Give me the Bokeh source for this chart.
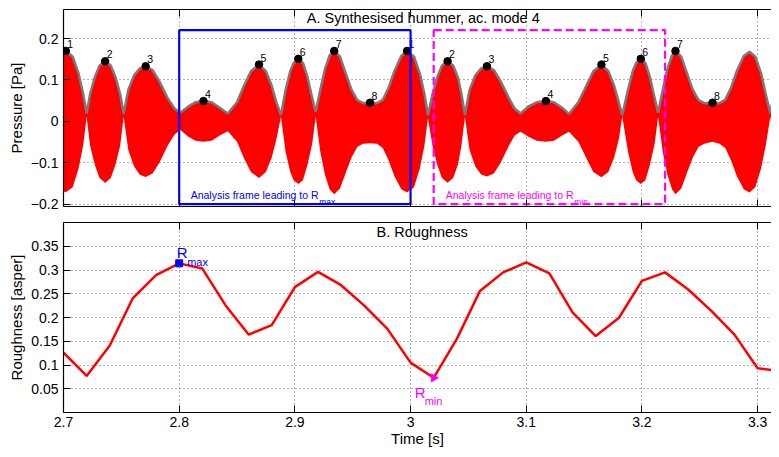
from bokeh.plotting import figure
from bokeh.layouts import column
from bokeh.models import FixedTicker, Label, LinearAxis, Range1d
from bokeh.embed import file_html
from bokeh.resources import INLINE
from bokeh.core.properties import value

FONT = "Liberation Sans"

# ---------------- data ----------------
# envelope of the synthesised hummer signal (time [s], upper / lower envelope [Pa])
env_t = [2.700, 2.702, 2.708, 2.713, 2.717, 2.720, 2.723, 2.727, 2.731, 2.736,
         2.741, 2.745, 2.749, 2.752, 2.756, 2.761, 2.766, 2.771, 2.777, 2.783,
         2.790, 2.796, 2.801, 2.808, 2.814, 2.821, 2.828, 2.835, 2.842, 2.850,
         2.856, 2.862, 2.869, 2.875, 2.880, 2.884, 2.888, 2.892, 2.896, 2.899,
         2.903, 2.907, 2.911, 2.915, 2.918, 2.922, 2.926, 2.930, 2.934, 2.939,
         2.944, 2.949, 2.954, 2.959, 2.965, 2.971, 2.976, 2.981, 2.986, 2.992,
         2.997, 3.003, 3.008, 3.012, 3.015, 3.019, 3.023, 3.027, 3.032, 3.037,
         3.041, 3.044, 3.047, 3.051, 3.056, 3.061, 3.066, 3.072, 3.078, 3.085,
         3.090, 3.095, 3.102, 3.109, 3.117, 3.124, 3.131, 3.137, 3.145, 3.152,
         3.158, 3.165, 3.171, 3.176, 3.180, 3.183, 3.188, 3.192, 3.195, 3.199,
         3.203, 3.207, 3.211, 3.214, 3.218, 3.222, 3.226, 3.229, 3.234, 3.239,
         3.244, 3.249, 3.254, 3.261, 3.267, 3.272, 3.277, 3.282, 3.288, 3.293,
         3.298, 3.303, 3.307, 3.311, 3.314, 3.318, 3.322]
env_upper = [0.166, 0.170, 0.156, 0.116, 0.066, 0.019, 0.066, 0.106, 0.134, 0.145,
             0.134, 0.106, 0.066, 0.018, 0.076, 0.111, 0.128, 0.133, 0.124, 0.096,
             0.056, 0.031, 0.021, 0.036, 0.046, 0.049, 0.046, 0.033, 0.019, 0.046,
             0.086, 0.121, 0.137, 0.121, 0.086, 0.046, 0.015, 0.076, 0.121, 0.141,
             0.151, 0.141, 0.106, 0.056, 0.023, 0.076, 0.126, 0.159, 0.170, 0.156,
             0.116, 0.076, 0.051, 0.044, 0.045, 0.044, 0.052, 0.081, 0.121, 0.158,
             0.170, 0.156, 0.116, 0.066, 0.015, 0.066, 0.106, 0.134, 0.145, 0.134,
             0.106, 0.066, 0.015, 0.076, 0.111, 0.128, 0.133, 0.124, 0.096, 0.056,
             0.031, 0.019, 0.036, 0.046, 0.049, 0.046, 0.033, 0.018, 0.046, 0.086,
             0.121, 0.137, 0.121, 0.086, 0.046, 0.015, 0.076, 0.121, 0.141, 0.151,
             0.141, 0.106, 0.056, 0.021, 0.076, 0.126, 0.159, 0.170, 0.156, 0.116,
             0.076, 0.051, 0.044, 0.045, 0.044, 0.052, 0.081, 0.121, 0.158, 0.168,
             0.156, 0.116, 0.066, 0.019, 0.066, 0.108, 0.136]
env_lower = [-0.169, -0.171, -0.159, -0.114, -0.059, 0.011, -0.059, -0.104, -0.136, -0.149,
             -0.136, -0.104, -0.059, 0.011, -0.069, -0.109, -0.129, -0.134, -0.126, -0.099,
             -0.059, -0.032, -0.021, -0.037, -0.047, -0.049, -0.047, -0.034, -0.024, -0.049,
             -0.089, -0.122, -0.137, -0.122, -0.087, -0.044, 0.011, -0.074, -0.122, -0.142,
             -0.151, -0.142, -0.104, -0.054, 0.011, -0.074, -0.129, -0.164, -0.176, -0.162,
             -0.124, -0.087, -0.061, -0.054, -0.053, -0.054, -0.064, -0.094, -0.132, -0.164,
             -0.172, -0.159, -0.114, -0.059, 0.008, -0.059, -0.104, -0.136, -0.148, -0.136,
             -0.104, -0.059, 0.011, -0.069, -0.109, -0.128, -0.133, -0.126, -0.099, -0.059,
             -0.034, -0.025, -0.037, -0.047, -0.049, -0.047, -0.034, -0.025, -0.049, -0.089,
             -0.122, -0.135, -0.122, -0.087, -0.044, 0.012, -0.074, -0.122, -0.142, -0.151,
             -0.142, -0.104, -0.054, 0.011, -0.074, -0.129, -0.164, -0.176, -0.162, -0.124,
             -0.087, -0.061, -0.054, -0.049, -0.054, -0.064, -0.094, -0.132, -0.164, -0.172,
             -0.159, -0.114, -0.059, 0.011, -0.055, -0.085, -0.110]

# numbered envelope peaks
peak_t = [2.702, 2.736, 2.771, 2.821, 2.869, 2.903, 2.934, 2.965,
          2.997, 3.032, 3.066, 3.117, 3.165, 3.199, 3.229, 3.261]
peak_v = [0.170, 0.145, 0.133, 0.049, 0.137, 0.151, 0.170, 0.045,
          0.170, 0.145, 0.133, 0.049, 0.137, 0.151, 0.170, 0.045]
peak_lbl = ["1", "2", "3", "4", "5", "6", "7", "8",
            "1", "2", "3", "4", "5", "6", "7", "8"]

# roughness time series
rough_t = [2.70, 2.72, 2.74, 2.76, 2.78, 2.80, 2.82, 2.84, 2.86, 2.88, 2.90,
           2.92, 2.94, 2.96, 2.98, 3.00, 3.02, 3.04, 3.06, 3.08, 3.10, 3.12,
           3.14, 3.16, 3.18, 3.20, 3.22, 3.24, 3.26, 3.28, 3.30, 3.32]
rough_v = [0.126, 0.077, 0.141, 0.241, 0.289, 0.314, 0.303, 0.226, 0.164, 0.184, 0.264,
           0.296, 0.268, 0.225, 0.176, 0.105, 0.073, 0.155, 0.256, 0.295, 0.316, 0.293,
           0.211, 0.161, 0.199, 0.277, 0.295, 0.259, 0.214, 0.164, 0.093, 0.087]
i_rmax = 5
i_rmin = 16

# analysis frames (start, end) in s and their pressure extent
frame_rmax = [2.80, 3.00]
frame_rmin = [3.02, 3.22]
frame_p = [-0.20, 0.22]

# ticks
t_ticks = [2.7, 2.8, 2.9, 3.0, 3.1, 3.2, 3.3]
t_tick_labels = ["2.7", "2.8", "2.9", "3", "3.1", "3.2", "3.3"]
p_ticks = [-0.2, -0.1, 0.0, 0.1, 0.2]
p_tick_labels = ["\u22120.2", "\u22120.1", "0", "0.1", "0.2"]
r_ticks = [0.05, 0.10, 0.15, 0.20, 0.25, 0.30, 0.35]
r_tick_labels = ["0.05", "0.1", "0.15", "0.2", "0.25", "0.3", "0.35"]

X_RANGE = (2.7, 3.312)


def style_axis(ax, ticks, labels, show_labels=True):
    ax.ticker = FixedTicker(ticks=ticks)
    ax.major_label_overrides = {t: l for t, l in zip(ticks, labels)}
    ax.major_tick_in = 7
    ax.major_tick_out = 0
    ax.minor_tick_in = 0
    ax.minor_tick_out = 0
    ax.axis_line_color = "black"
    ax.axis_line_width = 1.2
    ax.major_tick_line_color = "black"
    ax.major_label_text_font = FONT
    ax.major_label_text_color = "black"
    ax.axis_label_text_font = FONT
    ax.axis_label_text_font_style = "normal"
    ax.axis_label_text_color = "black"
    ax.axis_label_text_font_size = "15px"
    if show_labels:
        ax.major_label_text_font_size = "14px"
        ax.major_label_standoff = 5
    else:
        ax.major_label_text_font_size = "0px"
        ax.major_label_standoff = 0
        ax.major_label_text_alpha = 0


def style_grid(p, xt, yt):
    p.xgrid.ticker = FixedTicker(ticks=xt)
    p.ygrid.ticker = FixedTicker(ticks=yt)
    for g in (p.xgrid, p.ygrid):
        g.grid_line_color = "#666666"
        g.grid_line_dash = "1 3"
        g.grid_line_width = 1


# ---------------- top panel ----------------
top = figure(width=771, height=212, output_backend="svg", toolbar_location=None,
             x_range=Range1d(*X_RANGE), y_range=Range1d(-0.2055, 0.27),
             min_border_left=63, min_border_right=0, min_border_top=9, min_border_bottom=6)
top.outline_line_color = None
style_axis(top.xaxis[0], t_ticks, t_tick_labels, show_labels=False)
style_axis(top.yaxis[0], p_ticks, p_tick_labels)
top.yaxis[0].axis_label = "Pressure [Pa]"
top.yaxis[0].axis_label_standoff = 3
ax_top = LinearAxis()
style_axis(ax_top, t_ticks, t_tick_labels, show_labels=False)
top.add_layout(ax_top, "above")
style_grid(top, t_ticks, p_ticks)

top.varea(x=env_t, y1=env_lower, y2=env_upper, fill_color="#ff0000")
top.line(env_t, env_upper, line_color="#7a7a7a", line_width=2.5)
top.scatter(peak_t, peak_v, size=7.5, fill_color="black", line_color="black")
top.text(peak_t, peak_v, text=peak_lbl, x_offset=1.5, y_offset=-3,
         text_baseline="bottom", text_align="left",
         text_font=value(FONT), text_font_size=value("10.5px"), text_color="black")

top.quad(left=[frame_rmax[0]], right=[frame_rmax[1]], bottom=[frame_p[0]], top=[frame_p[1]],
         fill_color=None, line_color="#0000ff", line_width=2.2)
top.quad(left=[frame_rmin[0]], right=[frame_rmin[1]], bottom=[frame_p[0]], top=[frame_p[1]],
         fill_color=None, line_color="#ff00ff", line_width=2.2, line_dash="8 4")

main_txt = "Analysis frame leading to R"
top.add_layout(Label(x=frame_rmax[0], y=frame_p[0], x_offset=11.5, y_offset=9,
                     text=main_txt, text_font=FONT, text_font_size="10.5px",
                     text_color="#0000ff", text_baseline="middle"))
top.add_layout(Label(x=frame_rmax[0], y=frame_p[0], x_offset=140, y_offset=2.5,
                     text="max", text_font=FONT, text_font_size="8.5px",
                     text_color="#0000ff", text_baseline="middle"))
top.add_layout(Label(x=frame_rmin[0], y=frame_p[0], x_offset=12, y_offset=9,
                     text=main_txt, text_font=FONT, text_font_size="10.5px",
                     text_color="#ff00ff", text_baseline="middle"))
top.add_layout(Label(x=frame_rmin[0], y=frame_p[0], x_offset=140.5, y_offset=2.5,
                     text="min", text_font=FONT, text_font_size="8.5px",
                     text_color="#ff00ff", text_baseline="middle"))
top.add_layout(Label(x=3.011, y=0.249, text="A. Synthesised hummer, ac. mode 4",
                     text_font=FONT, text_font_size="14.5px", text_color="black",
                     text_align="center", text_baseline="middle"))

# ---------------- bottom panel ----------------
bot = figure(width=771, height=237, output_backend="svg", toolbar_location=None,
             x_range=top.x_range, y_range=Range1d(0.0, 0.4),
             min_border_left=63, min_border_right=0, min_border_top=10, min_border_bottom=36)
bot.outline_line_color = None
style_axis(bot.xaxis[0], t_ticks, t_tick_labels)
bot.xaxis[0].axis_label = "Time [s]"
bot.xaxis[0].axis_label_standoff = 0
bot.xaxis[0].major_label_standoff = 4
style_axis(bot.yaxis[0], r_ticks, r_tick_labels)
bot.yaxis[0].axis_label = "Roughness [asper]"
bot.yaxis[0].axis_label_standoff = 3
ax_top2 = LinearAxis()
style_axis(ax_top2, t_ticks, t_tick_labels, show_labels=False)
bot.add_layout(ax_top2, "above")
style_grid(bot, t_ticks, r_ticks)

bot.line(rough_t, rough_v, line_color="#ff0000", line_width=2.5)
bot.scatter([rough_t[i_rmax]], [rough_v[i_rmax]], marker="square", size=7,
            fill_color="#0000ff", line_color="#0000ff")
bot.scatter([rough_t[i_rmin]], [rough_v[i_rmin]], marker="triangle", angle=-1.5708, size=8,
            fill_color="#ff00ff", line_color="#ff00ff")

bot.add_layout(Label(x=rough_t[i_rmax], y=rough_v[i_rmax], x_offset=-2.5, y_offset=11,
                     text="R", text_font=FONT, text_font_size="15px",
                     text_color="#0000ff", text_baseline="middle"))
bot.add_layout(Label(x=rough_t[i_rmax], y=rough_v[i_rmax], x_offset=8, y_offset=1.5,
                     text="max", text_font=FONT, text_font_size="11px",
                     text_color="#0000ff", text_baseline="middle"))
bot.add_layout(Label(x=rough_t[i_rmin], y=rough_v[i_rmin], x_offset=-19, y_offset=-15,
                     text="R", text_font=FONT, text_font_size="15px",
                     text_color="#ff00ff", text_baseline="middle"))
bot.add_layout(Label(x=rough_t[i_rmin], y=rough_v[i_rmin], x_offset=-9, y_offset=-23,
                     text="min", text_font=FONT, text_font_size="11px",
                     text_color="#ff00ff", text_baseline="middle"))
bot.add_layout(Label(x=3.010, y=0.38, text="B. Roughness",
                     text_font=FONT, text_font_size="14.5px", text_color="black",
                     text_align="center", text_baseline="middle"))

layout = column(top, bot, spacing=0)
open("out.html", "w").write(file_html(layout, INLINE))
